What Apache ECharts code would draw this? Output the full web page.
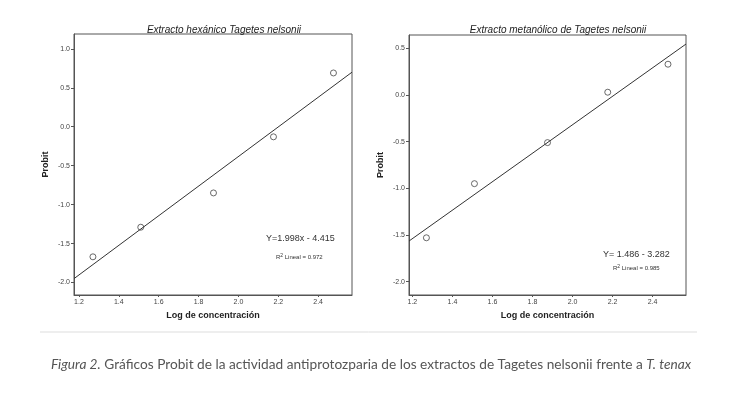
<!DOCTYPE html>
<html>
<head>
<meta charset="utf-8">
<script src="https://cdn.jsdelivr.net/npm/echarts@6/dist/echarts.min.js"></script>
<style>
  html, body { margin: 0; padding: 0; background: #fff; }
  #chart { width: 742px; height: 397px; }
</style>
</head>
<body>
<div id="chart"></div>
<script>
// log concentration values (same for both extracts)
var logConc = [1.27, 1.51, 1.875, 2.176, 2.477];
// probit values
var probitHex = [-1.67, -1.29, -0.85, -0.13, 0.69];
var probitMet = [-1.53, -0.95, -0.51, 0.03, 0.33];
// fitted line end points (as drawn)
var fitHexX = [1.175, 2.57];
var fitHexY = [-1.95, 0.70];
var fitMetX = [1.183, 2.567];
var fitMetY = [-1.565, 0.546];
// tick labels
var xTicks = [1.2, 1.4, 1.6, 1.8, 2.0, 2.2, 2.4];
var yTicksHex = [-2.0, -1.5, -1.0, -0.5, 0.0, 0.5, 1.0];
var yTicksMet = [-2.0, -1.5, -1.0, -0.5, 0.0, 0.5];

var axisColor = '#555';
var labelFont = 'Liberation Sans, Arial, sans-serif';

function pairs(xs, ys) {
    return xs.map(function (x, i) { return [x, ys[i]]; });
}

function xAxisFor(idx, min, max) {
    return {
        type: 'value', gridIndex: idx, min: min, max: max,
        name: 'Log de concentración', nameLocation: 'middle', nameGap: 16,
        nameTextStyle: { fontFamily: labelFont, fontWeight: 'bold', fontSize: 9, color: '#222' },
        axisLine: { onZero: false, lineStyle: { color: axisColor } },
        axisTick: { show: true, length: 2, customValues: xTicks, lineStyle: { color: axisColor } },
        axisLabel: {
            customValues: xTicks, fontSize: 7, margin: 4, color: '#444', fontFamily: labelFont,
            formatter: function (v) { return v.toFixed(1); }
        },
        splitLine: { show: false }
    };
}

function yAxisFor(idx, min, max, ticks) {
    return {
        type: 'value', gridIndex: idx, min: min, max: max,
        name: 'Probit', nameLocation: 'middle', nameGap: 24, nameRotate: 90,
        nameTextStyle: { fontFamily: labelFont, fontWeight: 'bold', fontSize: 9, color: '#222' },
        axisLine: { show: true, onZero: false, lineStyle: { color: axisColor } },
        axisTick: { show: true, length: 3, customValues: ticks, lineStyle: { color: axisColor } },
        axisLabel: {
            customValues: ticks, fontSize: 7, margin: 4, color: '#444', fontFamily: labelFont,
            formatter: function (v) { return v.toFixed(1); }
        },
        splitLine: { show: false }
    };
}

var chart = echarts.init(document.getElementById('chart'), null, { renderer: 'canvas' });

var pointStyle = { color: '#fff', borderColor: '#444', borderWidth: 0.8, opacity: 1 };

var option = {
    backgroundColor: '#fff',
    animation: false,
    title: [
        {
            text: 'Extracto hexánico Tagetes nelsonii', left: 219, top: 20, textAlign: 'center',
            textStyle: { fontFamily: labelFont, fontStyle: 'italic', fontWeight: 'normal', fontSize: 10, color: '#222' }
        },
        {
            text: 'Extracto metanólico de Tagetes nelsonii', left: 553, top: 20, textAlign: 'center',
            textStyle: { fontFamily: labelFont, fontStyle: 'italic', fontWeight: 'normal', fontSize: 10, color: '#222' }
        }
    ],
    grid: [
        { left: 74, top: 34, width: 278, height: 261, show: true, borderColor: axisColor, borderWidth: 1, backgroundColor: '#fff' },
        { left: 409, top: 35, width: 277, height: 260, show: true, borderColor: axisColor, borderWidth: 1, backgroundColor: '#fff' }
    ],
    xAxis: [xAxisFor(0, 1.175, 2.57), xAxisFor(1, 1.183, 2.567)],
    yAxis: [yAxisFor(0, -2.16, 1.19, yTicksHex), yAxisFor(1, -2.143, 0.643, yTicksMet)],
    series: [
        {
            type: 'line', xAxisIndex: 0, yAxisIndex: 0, data: pairs(fitHexX, fitHexY),
            symbol: 'none', lineStyle: { color: '#333', width: 1 }, silent: true
        },
        {
            type: 'scatter', xAxisIndex: 0, yAxisIndex: 0, data: pairs(logConc, probitHex),
            symbol: 'circle', symbolSize: 6, itemStyle: pointStyle
        },
        {
            type: 'line', xAxisIndex: 1, yAxisIndex: 1, data: pairs(fitMetX, fitMetY),
            symbol: 'none', lineStyle: { color: '#333', width: 1 }, silent: true
        },
        {
            type: 'scatter', xAxisIndex: 1, yAxisIndex: 1, data: pairs(logConc, probitMet),
            symbol: 'circle', symbolSize: 6, itemStyle: pointStyle
        }
    ],
    graphic: [
        // regression annotations
        {
            type: 'text', left: 266, top: 234,
            style: { text: 'Y=1.998x - 4.415', font: '9px ' + labelFont, fill: '#333' }
        },
        {
            type: 'text', left: 276, top: 253,
            style: {
                text: '{n|R}{s|2}{n| Lineal = 0.972}',
                rich: {
                    n: { fontSize: 6, fontFamily: labelFont, fill: '#333' },
                    s: { fontSize: 5, fontFamily: labelFont, fill: '#333', verticalAlign: 'top', padding: [0, 0, 3, 0] }
                }
            }
        },
        {
            type: 'text', left: 603, top: 250,
            style: { text: 'Y= 1.486 - 3.282', font: '9px ' + labelFont, fill: '#333' }
        },
        {
            type: 'text', left: 613, top: 264,
            style: {
                text: '{n|R}{s|2}{n| Lineal = 0.985}',
                rich: {
                    n: { fontSize: 6, fontFamily: labelFont, fill: '#333' },
                    s: { fontSize: 5, fontFamily: labelFont, fill: '#333', verticalAlign: 'top', padding: [0, 0, 3, 0] }
                }
            }
        },
        // separator
        {
            type: 'line', shape: { x1: 40, y1: 332, x2: 697, y2: 332 },
            style: { stroke: '#ddd', lineWidth: 1 }
        },
        // figure caption
        {
            type: 'text', left: 'center', top: 358,
            style: {
                text: '{i|Figura 2.}{n| Gráficos Probit de la actividad antiprotozparia de los extractos de Tagetes nelsonii frente a }{i|T. tenax}',
                rich: {
                    i: { fontSize: 13.7, fontFamily: 'Lato, sans-serif', fontStyle: 'italic', fill: '#555' },
                    n: { fontSize: 13.7, fontFamily: 'Lato, sans-serif', fill: '#555' }
                }
            }
        }
    ]
};

chart.setOption(option);
</script>
</body>
</html>
